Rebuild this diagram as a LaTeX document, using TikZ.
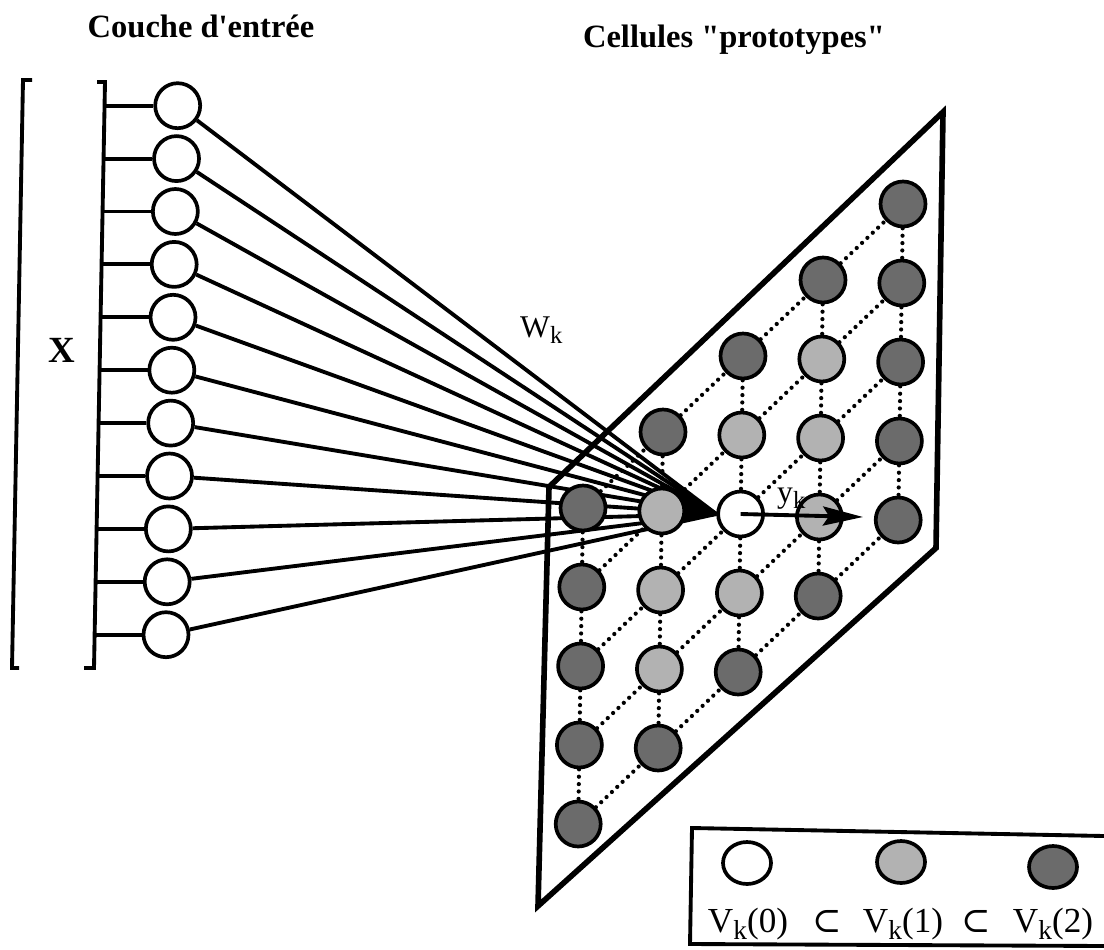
\documentclass[tikz,border=0pt]{standalone}
\usepackage{fontspec}
\setmainfont{Liberation Serif}
\newfontfamily\symb{DejaVu Serif}
\usetikzlibrary{arrows.meta,shapes.geometric,backgrounds}
\newcommand\indice[1]{\raisebox{-.45ex}{\scalebox{.78}{#1}}}

\begin{document}
\begin{tikzpicture}[x=0.02cm,y=-0.02cm,
    neurone/.style={circle,draw,fill=white,line width=2.1pt,minimum size=0.9cm,inner sep=0pt},
    etat0/.style={neurone},
    etat1/.style={neurone,fill=black!30},
    etat2/.style={neurone,fill=black!58},
    legende/.style={ellipse,draw,line width=2.1pt,minimum width=0.96cm,minimum height=0.84cm,inner sep=0pt},
    lien/.style={line width=2.2pt},
    pointille/.style={line width=2.4pt,line cap=round,dash pattern=on 0pt off 4.2pt},
    titre/.style={font=\fontsize{18.5}{22}\selectfont\bfseries,anchor=base},
    texte/.style={font=\fontsize{20}{23}\selectfont,anchor=base}]
    \useasboundingbox (0,0) rectangle (1104,949);

    % Titres
    \node[titre] (t1) at (201,38) {Couche d\textquotesingle entrée};
    \node[titre] (t2) at (734,48) {Cellules \textquotedbl prototypes\textquotedbl};

    % Vecteur d'entree X
    \draw[lien] (32,80) -- (23,80) -- (12,668) -- (19,668);
    \draw[lien] (97,82) -- (105,82) -- (94,668) -- (84,668);
    \node[font=\fontsize{21}{24}\selectfont\bfseries,anchor=base] (X) at (62,362) {X};

    % Couche d'entree : 11 neurones
    \foreach \n in {0,...,10}{
      \node[neurone] (e\n) at ({177.7-1.17*\n},{105.7+52.9*\n}) {};
      \coordinate (b\n) at ({105-0.0188*(23.7+52.9*\n)},{105.7+52.9*\n});
      \draw[lien] (b\n) -- (e\n);
    }

    % Cadre des prototypes
    \draw[line width=3.2pt] (549,487) -- (943,112) -- (936,548) -- (538,906) -- cycle;

    % Grille 5x5, etat = distance au centre
    \foreach \i in {0,...,4}
      \foreach \j in {0,...,4}{
        \pgfmathtruncatemacro\d{max(abs(\i-2),abs(\j-2))}
        \node[etat\d] (p\i\j) at ({583+80*\i-1.2*\j},{508-76*\i+79*\j}) {};
      }
    \foreach \i in {0,...,4}
      \foreach \j in {0,...,3}{
        \pgfmathtruncatemacro\k{\j+1}
        \draw[pointille] (p\i\j) -- (p\i\k);
        \draw[pointille] (p\j\i) -- (p\k\i);
      }

    % Poids W_k
    \begin{pgfonlayer}{background}
      \foreach \n in {0,...,10}
        \draw[lien] (e\n) -- (p22.west);
    \end{pgfonlayer}
    \node[font=\fontsize{18}{21}\selectfont,anchor=base west] (w) at (514,337) {W\indice{k}};

    % Sortie y_k
    \coordinate (s) at (863,517);
    \draw[lien,-{Stealth[length=0.8cm,width=0.38cm,inset=0.12cm]}] (p22.center) -- (s);
    \node[font=\fontsize{18}{21}\selectfont,anchor=base west] (y) at (771,502) {y\indice{k}};

    % Legende
    \draw[lien] (1104,836) -- (692,828) -- (690,944) -- (1104,946);
    \node[legende] (l0) at (747,863) {};
    \node[legende,fill=black!30] (l1) at (901,862) {};
    \node[legende,fill=black!58] (l2) at (1053,867) {};
    \node[texte] (v0) at (748,932) {V\indice{k}(0)};
    \node[texte] (c1) at (827,932) {\symb ⊂};
    \node[texte] (v1) at (903,932) {V\indice{k}(1)};
    \node[texte] (c2) at (976,932) {\symb ⊂};
    \node[texte] (v2) at (1053,932) {V\indice{k}(2)};
\end{tikzpicture}
\end{document}
